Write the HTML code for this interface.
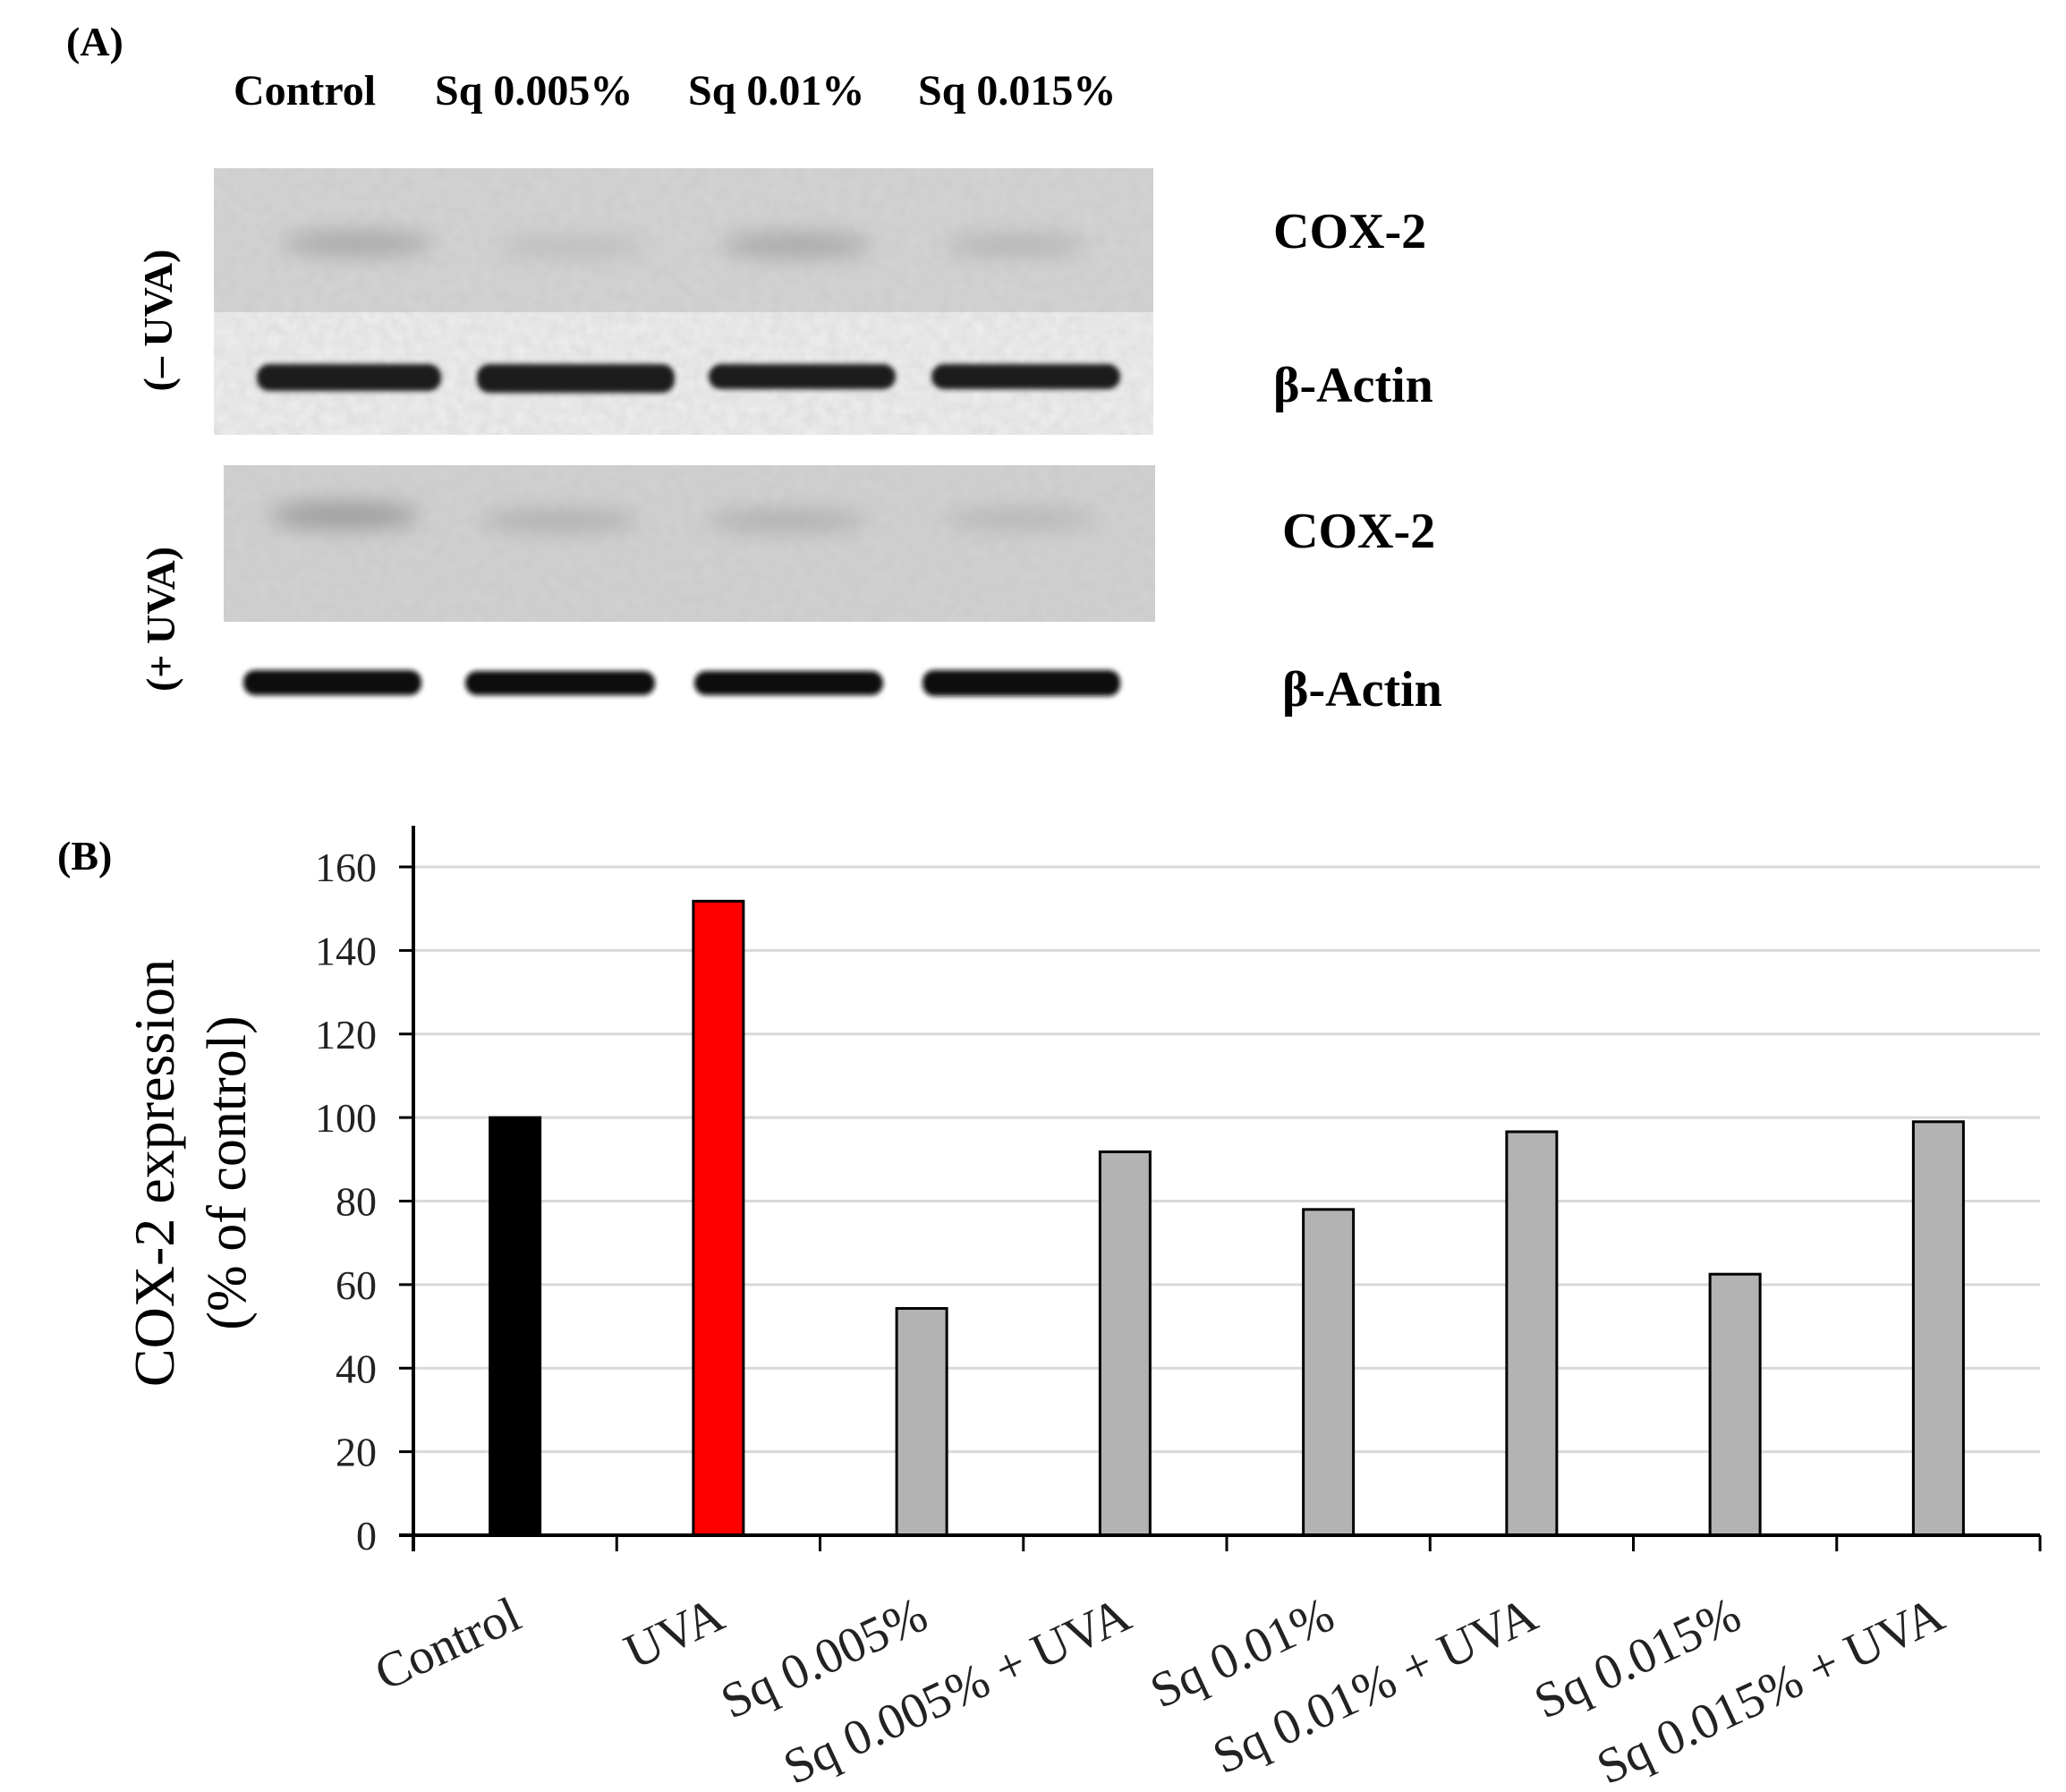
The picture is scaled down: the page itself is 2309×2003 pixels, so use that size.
<!DOCTYPE html>
<html><head><meta charset="utf-8"><style>
html,body{margin:0;padding:0;background:#fff;}
svg{display:block;}
text{font-family:"Liberation Serif",serif;}
</style></head><body>
<svg width="2309" height="2003" viewBox="0 0 2309 2003">
<defs>
<filter id="noise" x="0" y="0" width="100%" height="100%">
<feTurbulence type="fractalNoise" baseFrequency="0.08" numOctaves="2" seed="3" result="n"/>
<feColorMatrix in="n" type="matrix" values="0 0 0 0 0.5  0 0 0 0 0.5  0 0 0 0 0.5  0 0 0 0.35 0"/>
<feComposite in2="SourceGraphic" operator="in"/>
</filter>
<filter id="blur" x="-30%" y="-100%" width="160%" height="300%"><feGaussianBlur stdDeviation="12"/></filter>
<filter id="blur2" x="-10%" y="-50%" width="120%" height="200%"><feGaussianBlur stdDeviation="3"/></filter>
</defs>

<!-- Panel A -->
<text x="74" y="62" font-size="46" font-weight="bold">(A)</text>
<g font-size="48" font-weight="bold">
<text x="261" y="117">Control</text>
<text x="486" y="117">Sq 0.005%</text>
<text x="769" y="117">Sq 0.01%</text>
<text x="1026" y="117">Sq 0.015%</text>
</g>

<g>
<rect x="239" y="188" width="1050" height="161" fill="#d4d4d4"/>
<rect x="239" y="188" width="1050" height="161" fill="#d4d4d4" filter="url(#noise)"/>
<g filter="url(#blur)">
<ellipse cx="400" cy="272" rx="85" ry="14" fill="#a8a8a8"/>
<ellipse cx="640" cy="276" rx="85" ry="11" fill="#bcbcbc"/>
<ellipse cx="890" cy="274" rx="85" ry="14" fill="#a8a8a8"/>
<ellipse cx="1135" cy="274" rx="80" ry="12" fill="#b4b4b4"/>
</g>
</g>
<g>
<rect x="239" y="349" width="1050" height="137" fill="#efefef"/>
<rect x="239" y="349" width="1050" height="137" fill="#efefef" filter="url(#noise)"/>
<g filter="url(#blur2)" fill="#1a1a1a">
<rect x="287" y="407" width="206" height="30" rx="14"/>
<rect x="533" y="407" width="221" height="32" rx="14"/>
<rect x="792" y="407" width="209" height="28" rx="14"/>
<rect x="1041" y="407" width="211" height="28" rx="14"/>
</g>
</g>
<g>
<rect x="250" y="520" width="1041" height="175" fill="#d2d2d2"/>
<rect x="250" y="520" width="1041" height="175" fill="#d2d2d2" filter="url(#noise)"/>
<g filter="url(#blur)">
<ellipse cx="385" cy="576" rx="85" ry="15" fill="#9c9c9c"/>
<ellipse cx="625" cy="582" rx="90" ry="11" fill="#acacac"/>
<ellipse cx="880" cy="582" rx="90" ry="11" fill="#acacac"/>
<ellipse cx="1140" cy="580" rx="85" ry="11" fill="#b4b4b4"/>
</g>
</g>
<g filter="url(#blur2)" fill="#111">
<rect x="272" y="749" width="199" height="28" rx="13"/>
<rect x="520" y="750" width="212" height="27" rx="13"/>
<rect x="776" y="750" width="211" height="27" rx="13"/>
<rect x="1031" y="749" width="221" height="29" rx="13"/>
</g>

<g font-size="56" font-weight="bold">
<text x="1423" y="277">COX-2</text>
<text x="1423" y="449">β-Actin</text>
<text x="1433" y="612">COX-2</text>
<text x="1433" y="789">β-Actin</text>
</g>
<text transform="translate(192,358) rotate(-90)" text-anchor="middle" font-size="46" font-weight="bold">(– UVA)</text>
<text transform="translate(195,692) rotate(-90)" text-anchor="middle" font-size="46" font-weight="bold">(+ UVA)</text>

<!-- Panel B -->
<text x="64" y="972" font-size="46" font-weight="bold">(B)</text>
<text transform="translate(194,1311) rotate(-90)" text-anchor="middle" font-size="64">COX-2 expression</text>
<text transform="translate(274,1311) rotate(-90)" text-anchor="middle" font-size="62">(% of control)</text>
<g id="chart"></g>
</svg>
<script>
const categories = ["Control","UVA","Sq 0.005%","Sq 0.005% + UVA","Sq 0.01%","Sq 0.01% + UVA","Sq 0.015%","Sq 0.015% + UVA"];
const values = [100, 151.8, 54.3, 91.8, 78, 96.6, 62.5, 99];
const barColors = ["#000000","#ff0000","#b3b3b3","#b3b3b3","#b3b3b3","#b3b3b3","#b3b3b3","#b3b3b3"];
const yTicks = [0,20,40,60,80,100,120,140,160];

const NS = "http://www.w3.org/2000/svg";
const g = document.getElementById('chart');
const X0 = 462, X1 = 2280, Y0 = 1716, YTOP = 923;
const yMax = 160, yPix160 = 969;
function yScale(v){ return Y0 - v/yMax*(Y0 - yPix160); }
const bw = (X1 - X0)/categories.length;
function xCenter(i){ return X0 + bw*(i+0.5); }
function mk(tag, attrs){ const e = document.createElementNS(NS, tag); for (const k in attrs) e.setAttribute(k, attrs[k]); g.appendChild(e); return e; }

yTicks.forEach(function(t){
  if (t > 0) {
    const gl = mk('line', {x1:X0, x2:X1, y1:yScale(t), y2:yScale(t), stroke:'#d9d9d9', 'stroke-width':3});
    
    
  }
  const tk = mk('line', {x1:X0-16, x2:X0, y1:yScale(t), y2:yScale(t), stroke:'#000', 'stroke-width':3});
  
  
  const lb = mk('text', {x:421, y:yScale(t)+16, 'text-anchor':'end', 'font-size':46, fill:'#222'});
  lb.textContent = t;
  
  
});

categories.forEach(function(c, i){
  const w = 56, top = yScale(values[i]);
  const r = mk('rect', {x:xCenter(i)-w/2, y:top, width:w, height:Y0-top, fill:barColors[i], stroke:'#000', 'stroke-width':3});
  
  
  const lb = mk('text', {transform:'translate(' + (xCenter(i)+10) + ',1818) rotate(-25)', 'text-anchor':'end', 'font-size':56, fill:'#222'});
  lb.textContent = c;
  
  
});
for (let i = 0; i <= categories.length; i++) {
  const tk = mk('line', {x1:X0+bw*i, x2:X0+bw*i, y1:Y0, y2:Y0+18, stroke:'#000', 'stroke-width':3});
  
  
}
const ya = mk('line', {x1:X0, x2:X0, y1:YTOP, y2:Y0+18, stroke:'#000', 'stroke-width':4});


const xa = mk('line', {x1:X0-16, x2:X1, y1:Y0, y2:Y0, stroke:'#000', 'stroke-width':4});


</script>
</body></html>
